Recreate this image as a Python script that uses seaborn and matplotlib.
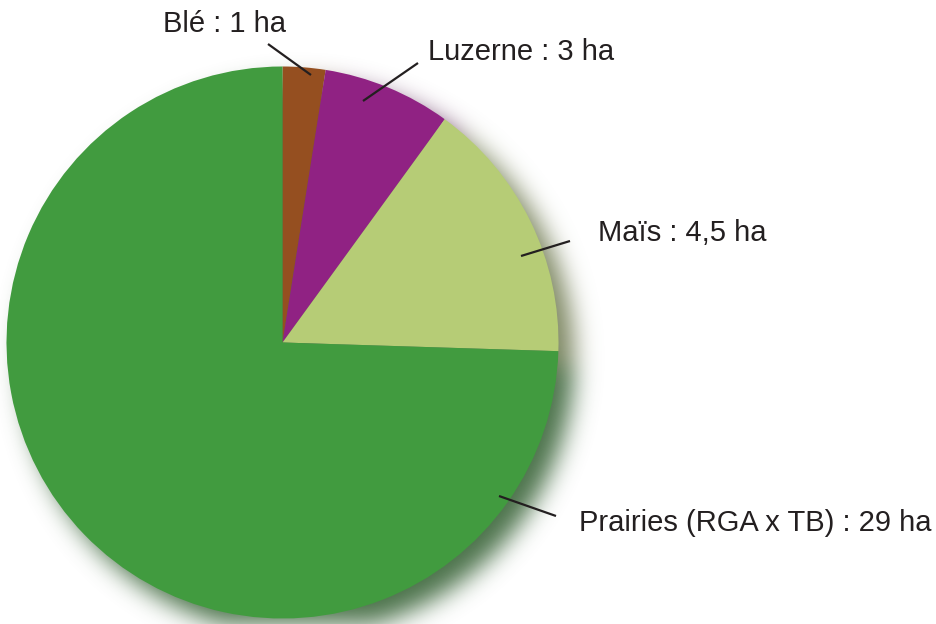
import numpy as np
import matplotlib
matplotlib.use("Agg")
from matplotlib import pyplot as plt
import matplotlib.colors as mcolors
import seaborn as sns

# ---------- data ----------
crops = ["Blé", "Luzerne", "Maïs", "Prairies (RGA x TB)"]
areas_ha = ["1", "3", "4,5", "29"]
shares = [2.5, 7.5, 15.5, 74.5]  # slice shares as drawn (%)
slice_colors = ["#954F20", "#902283", "#B6CC76", "#419B3F"]

# ---------- layout (pixels, y up) ----------
W, H = 936, 624
cx, cy, R = 282.5, H - 342.5, 276
label_pos = [(163, H - 32), (428, H - 60), (598, H - 241), (579, H - 531)]
leader_lines = [
    ((311, H - 75), (268, H - 44)),
    ((363, H - 101), (418, H - 63)),
    ((521, H - 256), (570, H - 241)),
    ((499, H - 496), (556, H - 516)),
]
text_color = "#231F20"


def blur(a, s):
    """Separable gaussian blur with zero padding."""
    k = np.arange(-3 * s, 3 * s + 1)
    w = np.exp(-(k**2) / (2.0 * s**2))
    w /= w.sum()
    p = 3 * s
    for axis in (0, 1):
        pad = [(0, 0)] * a.ndim
        pad[axis] = (p, p)
        ap = np.pad(a, pad)
        out = np.zeros_like(a)
        n = a.shape[axis]
        for kk, wk in zip(k, w):
            out += wk * np.take(ap, np.arange(p + kk, p + kk + n), axis=axis)
        a = out
    return a


sns.set_theme(style="white")
plt.rcParams["font.family"] = ["Liberation Sans", "DejaVu Sans"]

fig = plt.figure(figsize=(W / 100, H / 100), dpi=100)
ax = fig.add_axes([0, 0, 1, 1])

# ---------- soft drop shadow (blurred, muted copy of the pie) ----------
off = 16
yy, xx = np.mgrid[0:H, 0:W]
px = xx + 0.5 - (cx + off)
py = (H - yy - 0.5) - (cy - off)
rr = np.hypot(px, py)
ang = (90 - np.degrees(np.arctan2(py, px))) % 360
edges = np.cumsum(shares) / np.sum(shares) * 360
idx = np.clip(np.searchsorted(edges, ang), 0, len(shares) - 1)
rgb = np.array([mcolors.to_rgb(c) for c in slice_colors])[idx] * 0.45 + 0.15
alpha = (rr <= R).astype(float)
prem = blur(rgb * alpha[..., None], 12)
alpha_b = blur(alpha, 12)
col = prem / np.maximum(alpha_b, 1e-6)[..., None]
shadow = np.dstack([np.clip(col, 0, 1), alpha_b * 0.95])
ax.imshow(shadow, extent=(0, W, 0, H), origin="upper", zorder=0,
          interpolation="bilinear")

# ---------- pie ----------
ax.pie(
    shares,
    colors=slice_colors,
    startangle=90,
    counterclock=False,
    center=(cx, cy),
    radius=R,
    wedgeprops=dict(linewidth=0, zorder=1),
)

for name, area, (tx, ty), (p0, p1) in zip(crops, areas_ha, label_pos, leader_lines):
    ax.text(tx, ty, f"{name} : {area} ha", ha="left", va="baseline",
            fontsize=21, color=text_color, zorder=3)
    ax.plot([p0[0], p1[0]], [p0[1], p1[1]], color=text_color, lw=1.6,
            solid_capstyle="butt", zorder=3)

ax.set_xlim(0, W)
ax.set_ylim(0, H)
ax.set_aspect("auto")
ax.axis("off")

fig.savefig("out.png", dpi=100)
